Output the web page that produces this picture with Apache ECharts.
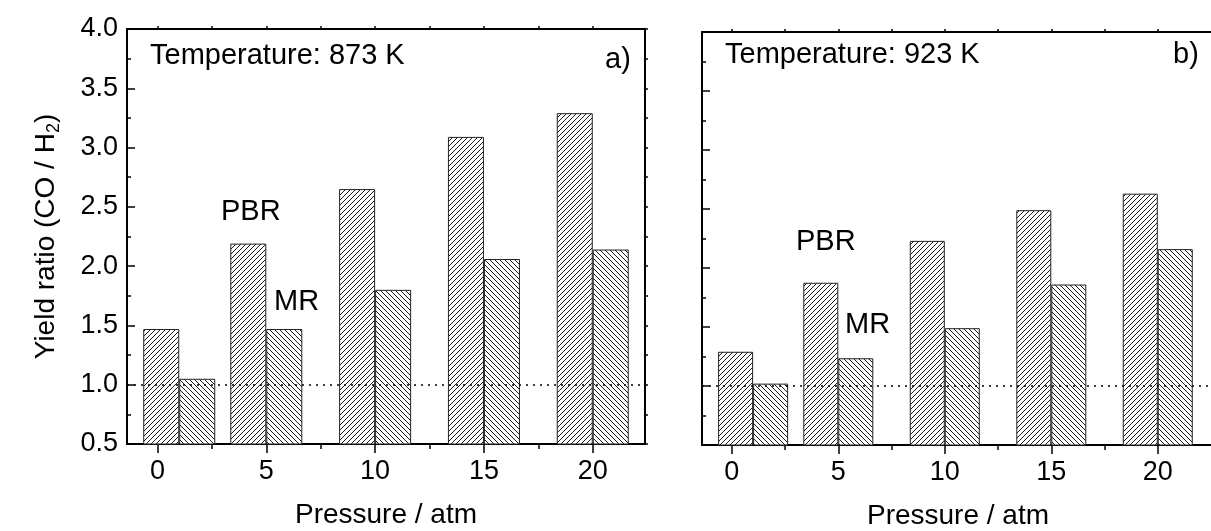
<!DOCTYPE html>
<html lang="en">
<head>
    <meta charset="UTF-8">
    <title>Yield ratio vs pressure</title>
    <script src="https://cdn.jsdelivr.net/npm/echarts@6/dist/echarts.min.js"></script>
    <style>
        html, body { margin: 0; padding: 0; background: #fff; }
    </style>
</head>
<body>
<div id="chart" style="width: 1211px;height: 531px;"></div>

<script type="text/javascript">
    // pressure in atm, yield ratio CO/H2
    var pressure = [1, 5, 10, 15, 20];
    var pbr873 = [1.47, 2.19, 2.65, 3.09, 3.29];
    var mr873 = [1.05, 1.47, 1.80, 2.06, 2.14];
    var pbr923 = [1.29, 1.875, 2.23, 2.49, 2.63];
    var mr923 = [1.02, 1.235, 1.49, 1.86, 2.16];

    var xMajor = [0, 5, 10, 15, 20];
    var xMinor = [2.5, 7.5, 12.5, 17.5];
    var xTop = [0, 2.5, 5, 7.5, 10, 12.5, 15, 17.5, 20];
    var refLine = 1.0;

    var FONT = '"Liberation Sans", Arial, sans-serif';

    function pairs(xs, ys) {
        return xs.map(function (x, i) { return [x, ys[i]]; });
    }

    // hatch tile, dir 1 = '/', dir -1 = '\'
    function hatch(dir) {
        var s = 5;
        var c = document.createElement('canvas');
        c.width = s;
        c.height = s;
        var g = c.getContext('2d');
        g.fillStyle = '#fff';
        g.fillRect(0, 0, s, s);
        g.strokeStyle = '#000';
        g.lineWidth = 0.9;
        g.beginPath();
        if (dir > 0) {
            g.moveTo(0, s); g.lineTo(s, 0);
            g.moveTo(-1, 1); g.lineTo(1, -1);
            g.moveTo(s - 1, s + 1); g.lineTo(s + 1, s - 1);
        } else {
            g.moveTo(0, 0); g.lineTo(s, s);
            g.moveTo(-1, s - 1); g.lineTo(1, s + 1);
            g.moveTo(s - 1, -1); g.lineTo(s + 1, 1);
        }
        g.stroke();
        return c;
    }

    var fwd = {image: hatch(1), repeat: 'repeat'};
    var back = {image: hatch(-1), repeat: 'repeat'};

    var black = {color: '#000', width: 2};

    function bottomAxis(grid, max) {
        return [{
            gridIndex: grid, type: 'value', position: 'bottom', min: -1.4, max: max,
            axisLine: {onZero: false, lineStyle: black},
            axisTick: {customValues: xMajor, length: 9, lineStyle: {color: '#000', width: 1.5}},
            axisLabel: {customValues: xMajor, color: '#000', fontSize: 27, fontFamily: FONT, margin: 14},
            splitLine: {show: false},
            name: 'Pressure / atm', nameLocation: 'middle', nameGap: 57,
            nameTextStyle: {color: '#000', fontSize: 28, fontFamily: FONT}
        }, {
            gridIndex: grid, type: 'value', position: 'bottom', min: -1.4, max: max,
            axisLine: {show: false, onZero: false},
            axisTick: {customValues: xMinor, length: 5, lineStyle: {color: '#000', width: 1.5}},
            axisLabel: {show: false},
            splitLine: {show: false}
        }, {
            gridIndex: grid, type: 'value', position: 'top', min: -1.4, max: max,
            axisLine: {onZero: false, lineStyle: black},
            axisTick: {customValues: xTop, length: 3, lineStyle: {color: '#000', width: 1.5}},
            axisLabel: {show: false},
            splitLine: {show: false}
        }];
    }

    var leftY = {
        gridIndex: 0, type: 'value', position: 'left', min: 0.5, max: 4.0, interval: 0.5,
        axisLine: {show: true, onZero: false, lineStyle: black},
        axisTick: {inside: true, length: 8, lineStyle: {color: '#000', width: 1.5}},
        minorTick: {show: true, splitNumber: 2, length: 4, lineStyle: {color: '#000', width: 1.5}},
        axisLabel: {color: '#000', fontSize: 27, fontFamily: FONT, margin: 9,
            formatter: function (v) { return v.toFixed(1); }},
        splitLine: {show: false},
        name: '{a|Yield ratio (CO / H}{s|2}{a|)}',
        nameLocation: 'middle', nameRotate: 90, nameGap: 64,
        nameTextStyle: {
            rich: {
                a: {fontSize: 28, fontFamily: FONT, color: '#000', lineHeight: 34},
                s: {fontSize: 18, fontFamily: FONT, color: '#000', lineHeight: 18, verticalAlign: 'bottom'}
            }
        }
    };
    var rightY = {
        gridIndex: 0, type: 'value', position: 'right', min: 0.5, max: 4.0, interval: 0.25,
        axisLine: {show: true, onZero: false, lineStyle: black},
        axisTick: {length: 3, lineStyle: {color: '#000', width: 1.5}},
        axisLabel: {show: false},
        splitLine: {show: false}
    };
    var leftY2 = {
        gridIndex: 1, type: 'value', position: 'left', min: 0.5, max: 4.0, interval: 0.5,
        axisLine: {show: true, onZero: false, lineStyle: black},
        axisTick: {inside: true, length: 8, lineStyle: {color: '#000', width: 1.5}},
        minorTick: {show: true, splitNumber: 2, length: 4, lineStyle: {color: '#000', width: 1.5}},
        axisLabel: {show: false},
        splitLine: {show: false}
    };

    function bars(name, xIdx, yIdx, values, pattern, width) {
        return {
            name: name, type: 'bar', xAxisIndex: xIdx, yAxisIndex: yIdx,
            barWidth: width, barGap: '0%',
            itemStyle: {color: pattern, borderColor: '#222', borderWidth: 1},
            data: pairs(pressure, values)
        };
    }

    function dotted() {
        return {
            silent: true, symbol: ['none', 'none'],
            label: {show: false},
            lineStyle: {color: '#000', width: 1.5, type: [2, 5]},
            data: [{yAxis: refLine}]
        };
    }

    var s873mr = bars('MR', 0, 0, mr873, back, 36);
    s873mr.markLine = dotted();
    var s923mr = bars('MR', 3, 2, mr923, back, 35);
    s923mr.markLine = dotted();

    function label(text, x, y) {
        return {
            type: 'text', x: x, y: y, z: 100,
            style: {text: text, fontSize: 29, fontFamily: FONT, fill: '#000', align: 'left', verticalAlign: 'middle'}
        };
    }

    var option = {
        animation: false,
        backgroundColor: '#fff',
        grid: [
            {left: 127, top: 29, width: 518, height: 415, outerBoundsMode: 'none'},
            {left: 702, top: 32, width: 512, height: 413, outerBoundsMode: 'none'}
        ],
        xAxis: bottomAxis(0, 22.4).concat(bottomAxis(1, 22.64)),
        yAxis: [leftY, rightY, leftY2],
        series: [
            bars('PBR', 0, 0, pbr873, fwd, 36),
            s873mr,
            bars('PBR', 3, 2, pbr923, fwd, 35),
            s923mr
        ],
        graphic: [
            label('Temperature: 873 K', 150, 56),
            label('a)', 605, 60),
            label('PBR', 221, 212),
            label('MR', 274, 302),
            label('Temperature: 923 K', 725, 55),
            label('b)', 1173, 55),
            label('PBR', 796, 242),
            label('MR', 845, 325)
        ]
    };

    var myChart = echarts.init(document.getElementById('chart'));
    myChart.setOption(option);
</script>
</body>
</html>
